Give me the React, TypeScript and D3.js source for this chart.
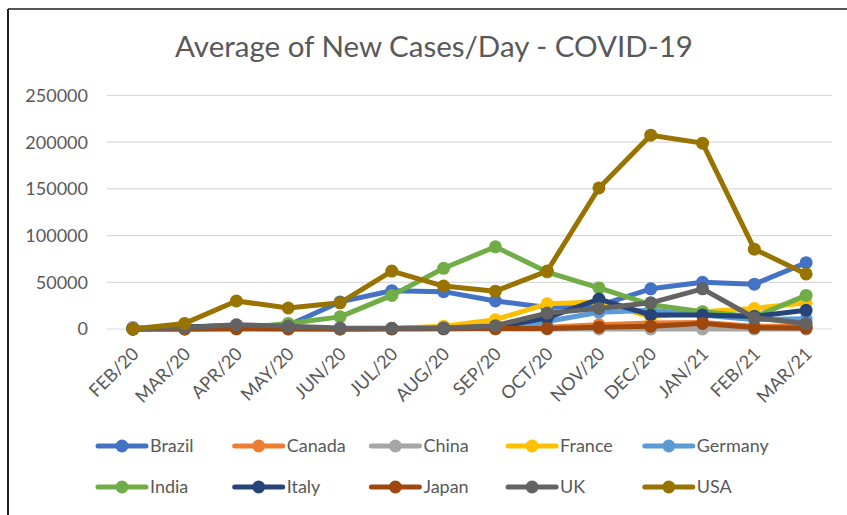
import React from "react";
import * as d3 from "d3";

const months = ["FEB/20", "MAR/20", "APR/20", "MAY/20", "JUN/20", "JUL/20", "AUG/20",
  "SEP/20", "OCT/20", "NOV/20", "DEC/20", "JAN/21", "FEB/21", "MAR/21"];

const yTicks = [0, 50000, 100000, 150000, 200000, 250000];

const brazil = [0, 500, 2500, 4000, 29000, 41000, 40000, 30000, 23000, 25000, 43000, 50000, 48000, 71000];
const canada = [0, 300, 1500, 1200, 400, 300, 400, 700, 2000, 4500, 6500, 7000, 3000, 3000];
const china = [2000, 100, 50, 10, 20, 20, 50, 20, 20, 20, 50, 100, 20, 20];
const france = [0, 2000, 3000, 500, 500, 500, 3000, 10000, 27000, 29000, 13000, 18500, 22000, 28000];
const germany = [0, 1500, 4000, 800, 400, 500, 1200, 1500, 8000, 18000, 20000, 15000, 10000, 11000];
const india = [0, 100, 500, 6000, 13000, 36000, 65000, 88000, 61000, 44000, 26000, 18500, 13000, 36000];
const italy = [0, 2500, 3500, 1000, 300, 200, 500, 1500, 12000, 32000, 15000, 15000, 13500, 20000];
const japan = [0, 0, 300, 100, 0, 500, 800, 500, 600, 2000, 3000, 6000, 1500, 1000];
const uk = [0, 1500, 4500, 3000, 1000, 700, 1000, 3500, 17000, 22000, 28000, 43000, 12000, 6000];
const usa = [0, 6000, 30000, 22500, 28000, 62000, 46000, 40500, 62000, 151000, 207500, 199000, 85500, 59000];

const series = [
  { name: "Brazil", color: "#4472C4", values: brazil },
  { name: "Canada", color: "#ED7D31", values: canada },
  { name: "China", color: "#A5A5A5", values: china },
  { name: "France", color: "#FFC000", values: france },
  { name: "Germany", color: "#5B9BD5", values: germany },
  { name: "India", color: "#70AD47", values: india },
  { name: "Italy", color: "#264478", values: italy },
  { name: "Japan", color: "#9E480E", values: japan },
  { name: "UK", color: "#636363", values: uk },
  { name: "USA", color: "#997300", values: usa },
];

const W = 847;
const H = 515;
const FONT = "Lato, 'Open Sans', sans-serif";
const TEXT = "#595959";

export default function App() {
  // plot area
  const x = d3.scaleBand().domain(months).range([107, 832]);
  const y = d3.scaleLinear().domain([0, 250000]).range([329, 95.5]);
  const cx = (m: string) => (x(m) as number) + x.bandwidth() / 2;

  const line = d3.line<number>()
    .x((_, i) => cx(months[i]))
    .y(d => y(d));

  return (
    <svg width={W} height={H} style={{ position: "absolute", left: 0, top: 0, background: "#fff" }}
      fontFamily={FONT}>
      {/* frame */}
      <line x1={8} y1={9} x2={W} y2={9} stroke="#555" strokeWidth={2} />
      <line x1={8} y1={9} x2={8} y2={H} stroke="#222" strokeWidth={2} />

      <text x={434} y={57} textAnchor="middle" fontSize={29.5} fill={TEXT}>
        Average of New Cases/Day - COVID-19
      </text>

      {/* grid + y labels */}
      {yTicks.map(t => (
        <g key={t}>
          <line x1={107} x2={832} y1={y(t)} y2={y(t)} stroke="#d9d9d9" strokeWidth={1.2} />
          <text x={88} y={y(t)} dy="0.36em" textAnchor="end" fontSize={18} fill={TEXT}>{t}</text>
        </g>
      ))}

      {/* x labels */}
      {months.map(m => (
        <text key={m} transform={`translate(${cx(m) + 7},${355}) rotate(-45)`}
          textAnchor="end" fontSize={18} fill={TEXT}>{m}</text>
      ))}

      {/* series */}
      {series.map(s => (
        <g key={s.name}>
          <path d={line(s.values) as string} fill="none" stroke={s.color} strokeWidth={5}
            strokeLinejoin="round" />
          {s.values.map((v, i) => (
            <circle key={i} cx={cx(months[i])} cy={y(v)} r={6.5} fill={s.color} />
          ))}
        </g>
      ))}

      {/* legend */}
      {series.map((s, i) => {
        const lx = 98 + (i % 5) * 136.7;
        const ly = i < 5 ? 446 : 487;
        return (
          <g key={s.name}>
            <line x1={lx} x2={lx + 48} y1={ly} y2={ly} stroke={s.color} strokeWidth={5} strokeLinecap="round" />
            <circle cx={lx + 24} cy={ly} r={6.5} fill={s.color} />
            <text x={lx + 52} y={ly} dy="0.36em" fontSize={18} fill={TEXT}>{s.name}</text>
          </g>
        );
      })}
    </svg>
  );
}
